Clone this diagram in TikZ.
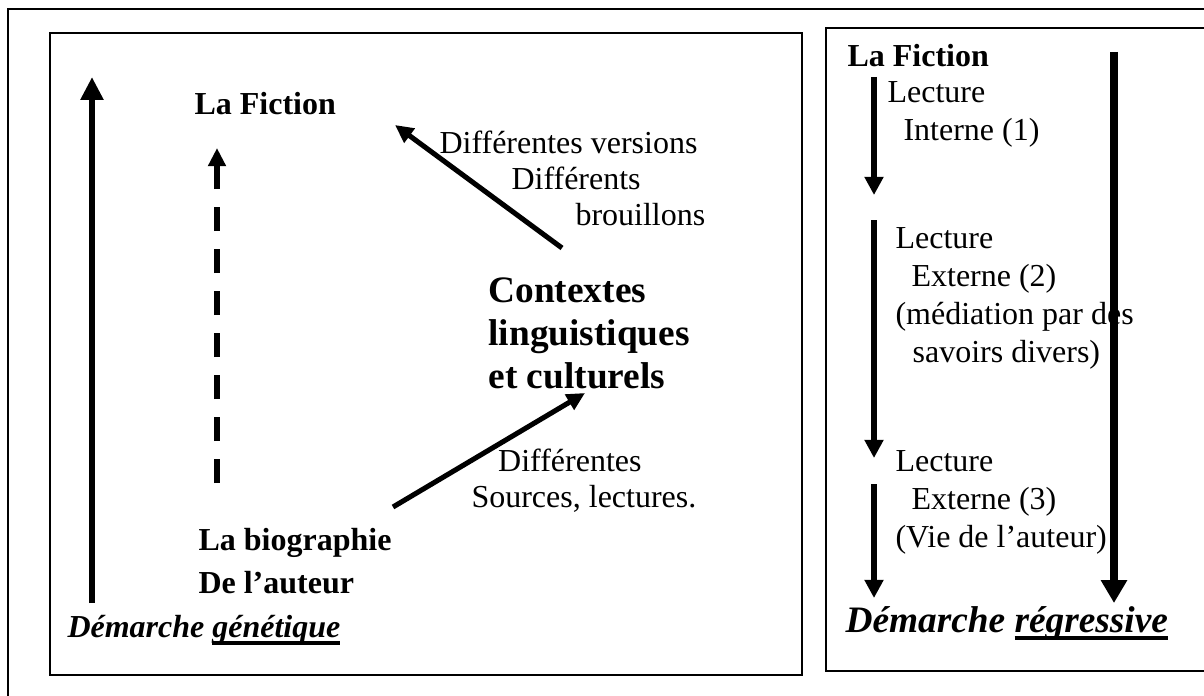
\documentclass[tikz,border=0pt]{standalone}
\usepackage{fontspec}
\setmainfont{Liberation Serif}
\usepackage{tikz}
\usetikzlibrary{arrows.meta}
\usetikzlibrary{positioning}
\newcommand{\souligne}[1]{\setbox0\hbox{#1}\rlap{\rule[-3pt]{\wd0}{1.5pt}}\box0}

\begin{document}
\begin{tikzpicture}[x=0.375pt,y=-0.375pt,
  every node/.style={inner sep=0pt,anchor=base west},
  bold node/.style={font=\fontsize{12}{16.1}\selectfont\bfseries,align=left},
  big node/.style={font=\fontsize{14}{16}\selectfont\bfseries,align=left},
  note node/.style={font=\fontsize{12}{13.5}\selectfont,align=left},
  read node/.style={font=\fontsize{12}{14.2}\selectfont,align=left},
  frame/.style={line width=0.6pt},
  main arrow/.style={-{Triangle[length=8.6pt,width=8.2pt]},line width=2.5pt},
  link arrow/.style={-{Triangle[length=6.8pt,width=6.4pt]},line width=1.9pt},
  read arrow/.style={-{Triangle[length=6.8pt,width=6.8pt]},line width=2.1pt}]

  \useasboundingbox (0,0) rectangle (1204,695);
  \clip (0,0) rectangle (1204,695);

  % frames
  \draw[frame] (8,720) -- (8,9) -- (1230,9);
  \draw[frame] (50,33) rectangle (802,675);
  \draw[frame] (1230,28) -- (826,28) -- (826,671) -- (1230,671);

  % left part (multi-line nodes sit on their last baseline)
  \node[bold node] (fiction) at (194,115) {La Fiction};
  \node[note node] (versions) at (439,225) {Différentes versions\\\hspace*{27pt}Différents\\\hspace*{51pt}brouillons};
  \node[big node] (contextes) at (488,388) {Contextes\\linguistiques\\et culturels};
  \node[note node] (sources) at (471,507) {\hspace*{10pt}Différentes\\Sources, lectures.};
  \node[bold node] (biographie) at (198,593) {La biographie\\De l’auteur};
  \node[bold node,font=\fontsize{12}{16}\selectfont\bfseries\itshape] (genetique) at (67,637) {Démarche \souligne{génétique}};

  \coordinate (gen foot) at (92,603);
  \coordinate (gen head) at (92,77);
  \coordinate (bio top) at (217,483);
  \coordinate (fic foot) at (217,148);
  \coordinate (ctx top) at (562,248);
  \coordinate (fic side) at (395,125);
  \coordinate (bio side) at (393,507);
  \coordinate (ctx foot) at (585,393);

  \draw[main arrow] (gen foot) -- (gen head);
  \draw[link arrow,dash pattern=on 9pt off 6.75pt] (bio top) -- (fic foot);
  \draw[link arrow] (ctx top) -- (fic side);
  \draw[link arrow] (bio side) -- (ctx foot);

  % right part
  \node[bold node] (fiction2) at (847,67) {La Fiction};
  \node[read node] (interne) at (887,140) {Lecture\\\hspace*{6pt}Interne (1)};
  \node[read node] (externe2) at (895,362) {Lecture\\\hspace*{6pt}Externe (2)\\(médiation par des\\\hspace*{6.4pt}savoirs divers)};
  \node[read node] (externe3) at (895,547) {Lecture\\\hspace*{6pt}Externe (3)\\(Vie de l’auteur)};
  \node[big node,font=\fontsize{14}{16}\selectfont\bfseries\itshape] (regressive) at (845,632) {Démarche \souligne{régressive}};

  \coordinate (r1) at (874,77);
  \coordinate (r2) at (874,195);
  \coordinate (r3) at (874,220);
  \coordinate (r4) at (874,458);
  \coordinate (r5) at (874,484);
  \coordinate (r6) at (874,598);
  \coordinate (reg top) at (1114,52);
  \coordinate (reg foot) at (1114,603);

  \path[read arrow]
    (r1) edge (r2)
    (r3) edge (r4)
    (r5) edge (r6);
  \draw[main arrow,line width=2.7pt,-{Triangle[length=8.6pt,width=9.4pt]}] (reg top) -- (reg foot);
\end{tikzpicture}
\end{document}
